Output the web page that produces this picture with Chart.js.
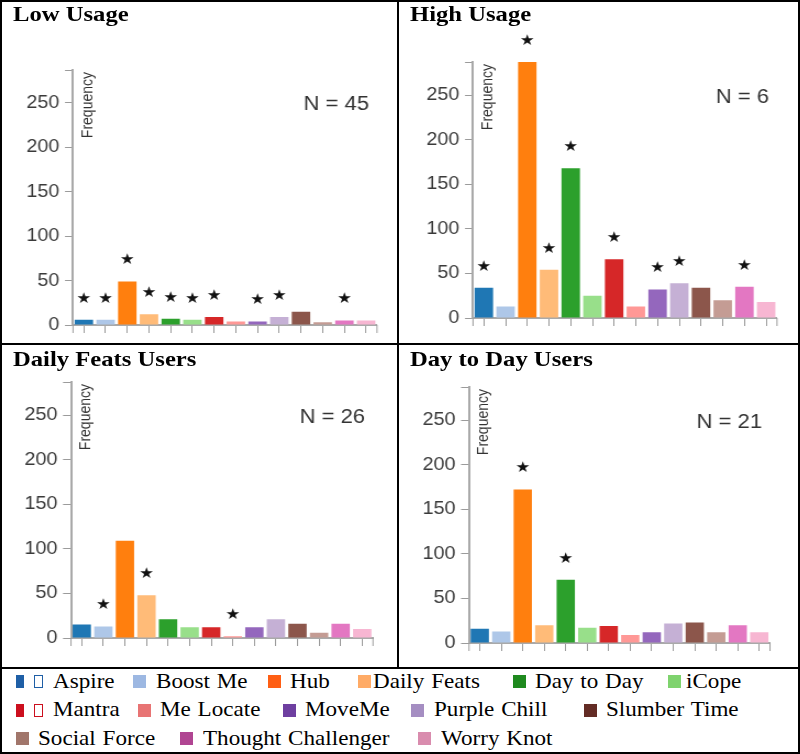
<!DOCTYPE html>
<html>
<head>
<meta charset="utf-8">
<script src="https://cdn.jsdelivr.net/npm/chart.js"></script>
<style>
  html, body { margin: 0; padding: 0; background: #fff; }
  #page { position: relative; width: 800px; height: 754px; overflow: hidden; background: #fff; }
  .frame { position: absolute; left: 0; top: 0; width: 800px; height: 754px; box-sizing: border-box; border: 2px solid #000; }
  .vline { position: absolute; left: 397px; top: 0; width: 2px; height: 668px; background: #000; }
  .hline { position: absolute; left: 0; width: 800px; height: 2px; background: #000; }
  canvas { position: absolute; }
  .title { position: absolute; font: bold 22px 'Liberation Serif', 'Times New Roman', serif; line-height: 22px;
           transform: scaleX(1.12); transform-origin: left top; white-space: nowrap; color: #000; }
  .lg-text { position: absolute; font: 22px 'Liberation Serif', 'Times New Roman', serif; line-height: 22px;
             transform: scaleX(1.05); transform-origin: left top; white-space: nowrap; word-spacing: 1px; color: #000; }
  .lg-sq { position: absolute; height: 13px; box-sizing: border-box; }
</style>
</head>
<body>
<div id="page">
  <canvas id="c1"></canvas>
  <canvas id="c2"></canvas>
  <canvas id="c3"></canvas>
  <canvas id="c4"></canvas>
  <div id="titles"></div>
  <div id="legend"></div>
  <div class="vline"></div>
  <div class="hline" style="top:343px"></div>
  <div class="hline" style="top:667px"></div>
  <div class="frame"></div>
</div>
<script>
// categories (apps)
const categories = ['Aspire', 'Boost Me', 'Hub', 'Daily Feats', 'Day to Day', 'iCope', 'Mantra',
  'Me Locate', 'MoveMe', 'Purple Chill', 'Slumber Time', 'Social Force', 'Thought Challenger', 'Worry Knot'];

// frequencies per group
const lowUsage        = [6, 6, 49, 12, 7, 6, 9, 4, 4, 9, 15, 3, 5, 5];
const highUsage       = [34, 13, 287, 54, 168, 25, 66, 13, 32, 39, 34, 20, 35, 18];
const dailyFeatsUsers = [15, 13, 109, 48, 21, 12, 12, 2, 12, 21, 16, 6, 16, 10];
const dayToDayUsers   = [16, 13, 172, 20, 71, 17, 19, 9, 12, 22, 23, 12, 20, 12];

// significance stars (1 = star above bar)
const lowStars   = [1, 1, 1, 1, 1, 1, 1, 0, 1, 1, 0, 0, 1, 0];
const highStars  = [1, 0, 1, 1, 1, 0, 1, 0, 1, 1, 0, 0, 1, 0];
const dailyStars = [0, 1, 0, 1, 0, 0, 0, 1, 0, 0, 0, 0, 0, 0];
const dayStars   = [0, 0, 1, 0, 1, 0, 0, 0, 0, 0, 0, 0, 0, 0];

const panelTitles = ['Low Usage', 'High Usage', 'Daily Feats Users', 'Day to Day Users'];
const sampleSizes = [45, 6, 26, 21];
const yTicks = [0, 50, 100, 150, 200, 250];
const yMax = 287;

const barColors = ['#1f77b4', '#aec7e8', '#ff7f0e', '#ffbb78', '#2ca02c', '#98df8a', '#d62728',
  '#ff9896', '#9467bd', '#c5b0d5', '#8c564b', '#c49c94', '#e377c2', '#f7b6d2'];
const legendColors = ['#1f5fa6', '#9db8e2', '#ff5f14', '#ffab66', '#1f8a1f', '#7fd36e', '#cc0f1e',
  '#e87474', '#6e3fa0', '#a58ec2', '#632c25', '#a1766b', '#b04592', '#d98cae'];

// the source picture is a bit wider than its fonts suggest
const STRETCH = 1.1;

const panels = [
  { id: 'c1', values: lowUsage, stars: lowStars, n: sampleSizes[0], title: panelTitles[0],
    box: { x: 0, y: 0, w: 397, h: 343, left: 73, right: 377, top: 70, bottom: 325 }, tx: 13, ty: 3 },
  { id: 'c2', values: highUsage, stars: highStars, n: sampleSizes[1], title: panelTitles[1],
    box: { x: 400, y: 0, w: 398, h: 343, left: 73, right: 377, top: 62, bottom: 318 }, tx: 410, ty: 3 },
  { id: 'c3', values: dailyFeatsUsers, stars: dailyStars, n: sampleSizes[2], title: panelTitles[2],
    box: { x: 0, y: 345, w: 397, h: 322, left: 71, right: 373, top: 37, bottom: 293 }, tx: 13, ty: 348 },
  { id: 'c4', values: dayToDayUsers, stars: dayStars, n: sampleSizes[3], title: panelTitles[3],
    box: { x: 400, y: 345, w: 398, h: 322, left: 69, right: 370, top: 42, bottom: 298 }, tx: 410, ty: 348 },
];

function makeChart(p) {
  const b = p.box;
  const canvas = document.getElementById(p.id);
  canvas.width = Math.round(b.w / STRETCH);
  canvas.height = b.h;
  canvas.style.left = b.x + 'px';
  canvas.style.top = b.y + 'px';
  canvas.style.width = b.w + 'px';
  canvas.style.height = b.h + 'px';
  const sx = b.w / canvas.width;

  const marks = {
    id: 'marks',
    afterDraw(chart) {
      const ctx = chart.ctx;
      const area = chart.chartArea;
      const meta = chart.getDatasetMeta(0);
      ctx.save();
      // axis end caps
      ctx.strokeStyle = '#9b9b9b';
      ctx.lineWidth = 1;
      ctx.beginPath();
      ctx.moveTo(area.left, area.bottom); ctx.lineTo(area.left, area.bottom + 8);
      ctx.moveTo(area.right, area.bottom); ctx.lineTo(area.right, area.bottom + 8);
      ctx.stroke();
      // stars
      ctx.fillStyle = '#111';
      ctx.font = "15px 'DejaVu Sans'";
      ctx.textAlign = 'center';
      ctx.textBaseline = 'middle';
      p.stars.forEach((s, i) => {
        if (!s) return;
        const bar = meta.data[i];
        ctx.fillText('★', bar.x, bar.y - 21);
      });
      // N label
      ctx.fillStyle = '#333';
      ctx.font = "20px 'Liberation Sans', Arial, sans-serif";
      ctx.textAlign = 'right';
      ctx.fillText('N = ' + p.n, area.right - 8 / sx, chart.scales.y.getPixelForValue(250) + 2);
      // axis title
      ctx.translate(area.left + 15 / sx, area.top + 2);
      ctx.rotate(-Math.PI / 2);
      ctx.font = "14px 'Liberation Sans', Arial, sans-serif";
      ctx.textAlign = 'right';
      ctx.fillText('Frequency', 0, 0);
      ctx.restore();
    }
  };

  return new Chart(canvas, {
    type: 'bar',
    data: {
      labels: categories,
      datasets: [{
        data: p.values,
        backgroundColor: barColors,
        borderWidth: 0,
        barPercentage: 0.85,
        categoryPercentage: 1
      }]
    },
    options: {
      responsive: false,
      animation: false,
      devicePixelRatio: 1,
      events: [],
      layout: { padding: { left: 0, right: (b.w - b.right) / sx, top: b.top, bottom: 0 } },
      plugins: { legend: { display: false }, tooltip: { enabled: false } },
      scales: {
        x: {
          ticks: { display: false },
          grid: { drawOnChartArea: false, offset: false, tickLength: 8, color: '#9b9b9b', lineWidth: 1 },
          border: { color: '#a9a9a9', width: 2 },
          afterFit: s => { s.height = b.h - b.bottom; }
        },
        y: {
          min: 0,
          max: yMax,
          afterBuildTicks: s => { s.ticks.push({ value: yMax }); },
          ticks: {
            stepSize: 50,
            includeBounds: false,
            padding: 5,
            color: '#3a3a3a',
            font: { family: "'Liberation Sans', Arial, sans-serif", size: 18 },
            callback: v => yTicks.includes(v) ? String(v) : ''
          },
          grid: { drawOnChartArea: false, tickLength: 8 / sx, color: '#9b9b9b', lineWidth: 1 },
          border: { color: '#a9a9a9', width: 2 },
          afterFit: s => { s.width = b.left / sx; }
        }
      }
    },
    plugins: [marks]
  });
}

panels.forEach(p => {
  makeChart(p);
  const t = document.createElement('div');
  t.className = 'title';
  t.style.left = p.tx + 'px';
  t.style.top = p.ty + 'px';
  t.textContent = p.title;
  document.getElementById('titles').appendChild(t);
});

// legend layout: row, square x, text x, double marker
const legendRows = [669.6, 698.3, 726.6];
const legendLayout = [
  [0, 16, 53, true], [0, 133, 156], [0, 268, 290], [0, 358, 373], [0, 513, 535], [0, 668, 686],
  [1, 16, 53, true], [1, 138, 160], [1, 283, 305], [1, 411, 434], [1, 584, 606],
  [2, 16, 38], [2, 180, 203], [2, 418, 441]
];
const legend = document.getElementById('legend');
legendLayout.forEach(([row, sq, tx, dbl], i) => {
  const top = legendRows[row];
  const col = legendColors[i];
  const a = document.createElement('div');
  a.className = 'lg-sq';
  a.style.left = sq + 'px';
  a.style.top = (top + 5.4) + 'px';
  a.style.width = (dbl ? 8 : 13) + 'px';
  a.style.background = col;
  legend.appendChild(a);
  if (dbl) {
    const o = document.createElement('div');
    o.className = 'lg-sq';
    o.style.left = (sq + 18) + 'px';
    o.style.top = (top + 5.4) + 'px';
    o.style.width = '9px';
    o.style.border = '1.5px solid ' + col;
    legend.appendChild(o);
  }
  const t = document.createElement('div');
  t.className = 'lg-text';
  t.style.left = tx + 'px';
  t.style.top = top + 'px';
  t.textContent = categories[i];
  legend.appendChild(t);
});
</script>
</body>
</html>
